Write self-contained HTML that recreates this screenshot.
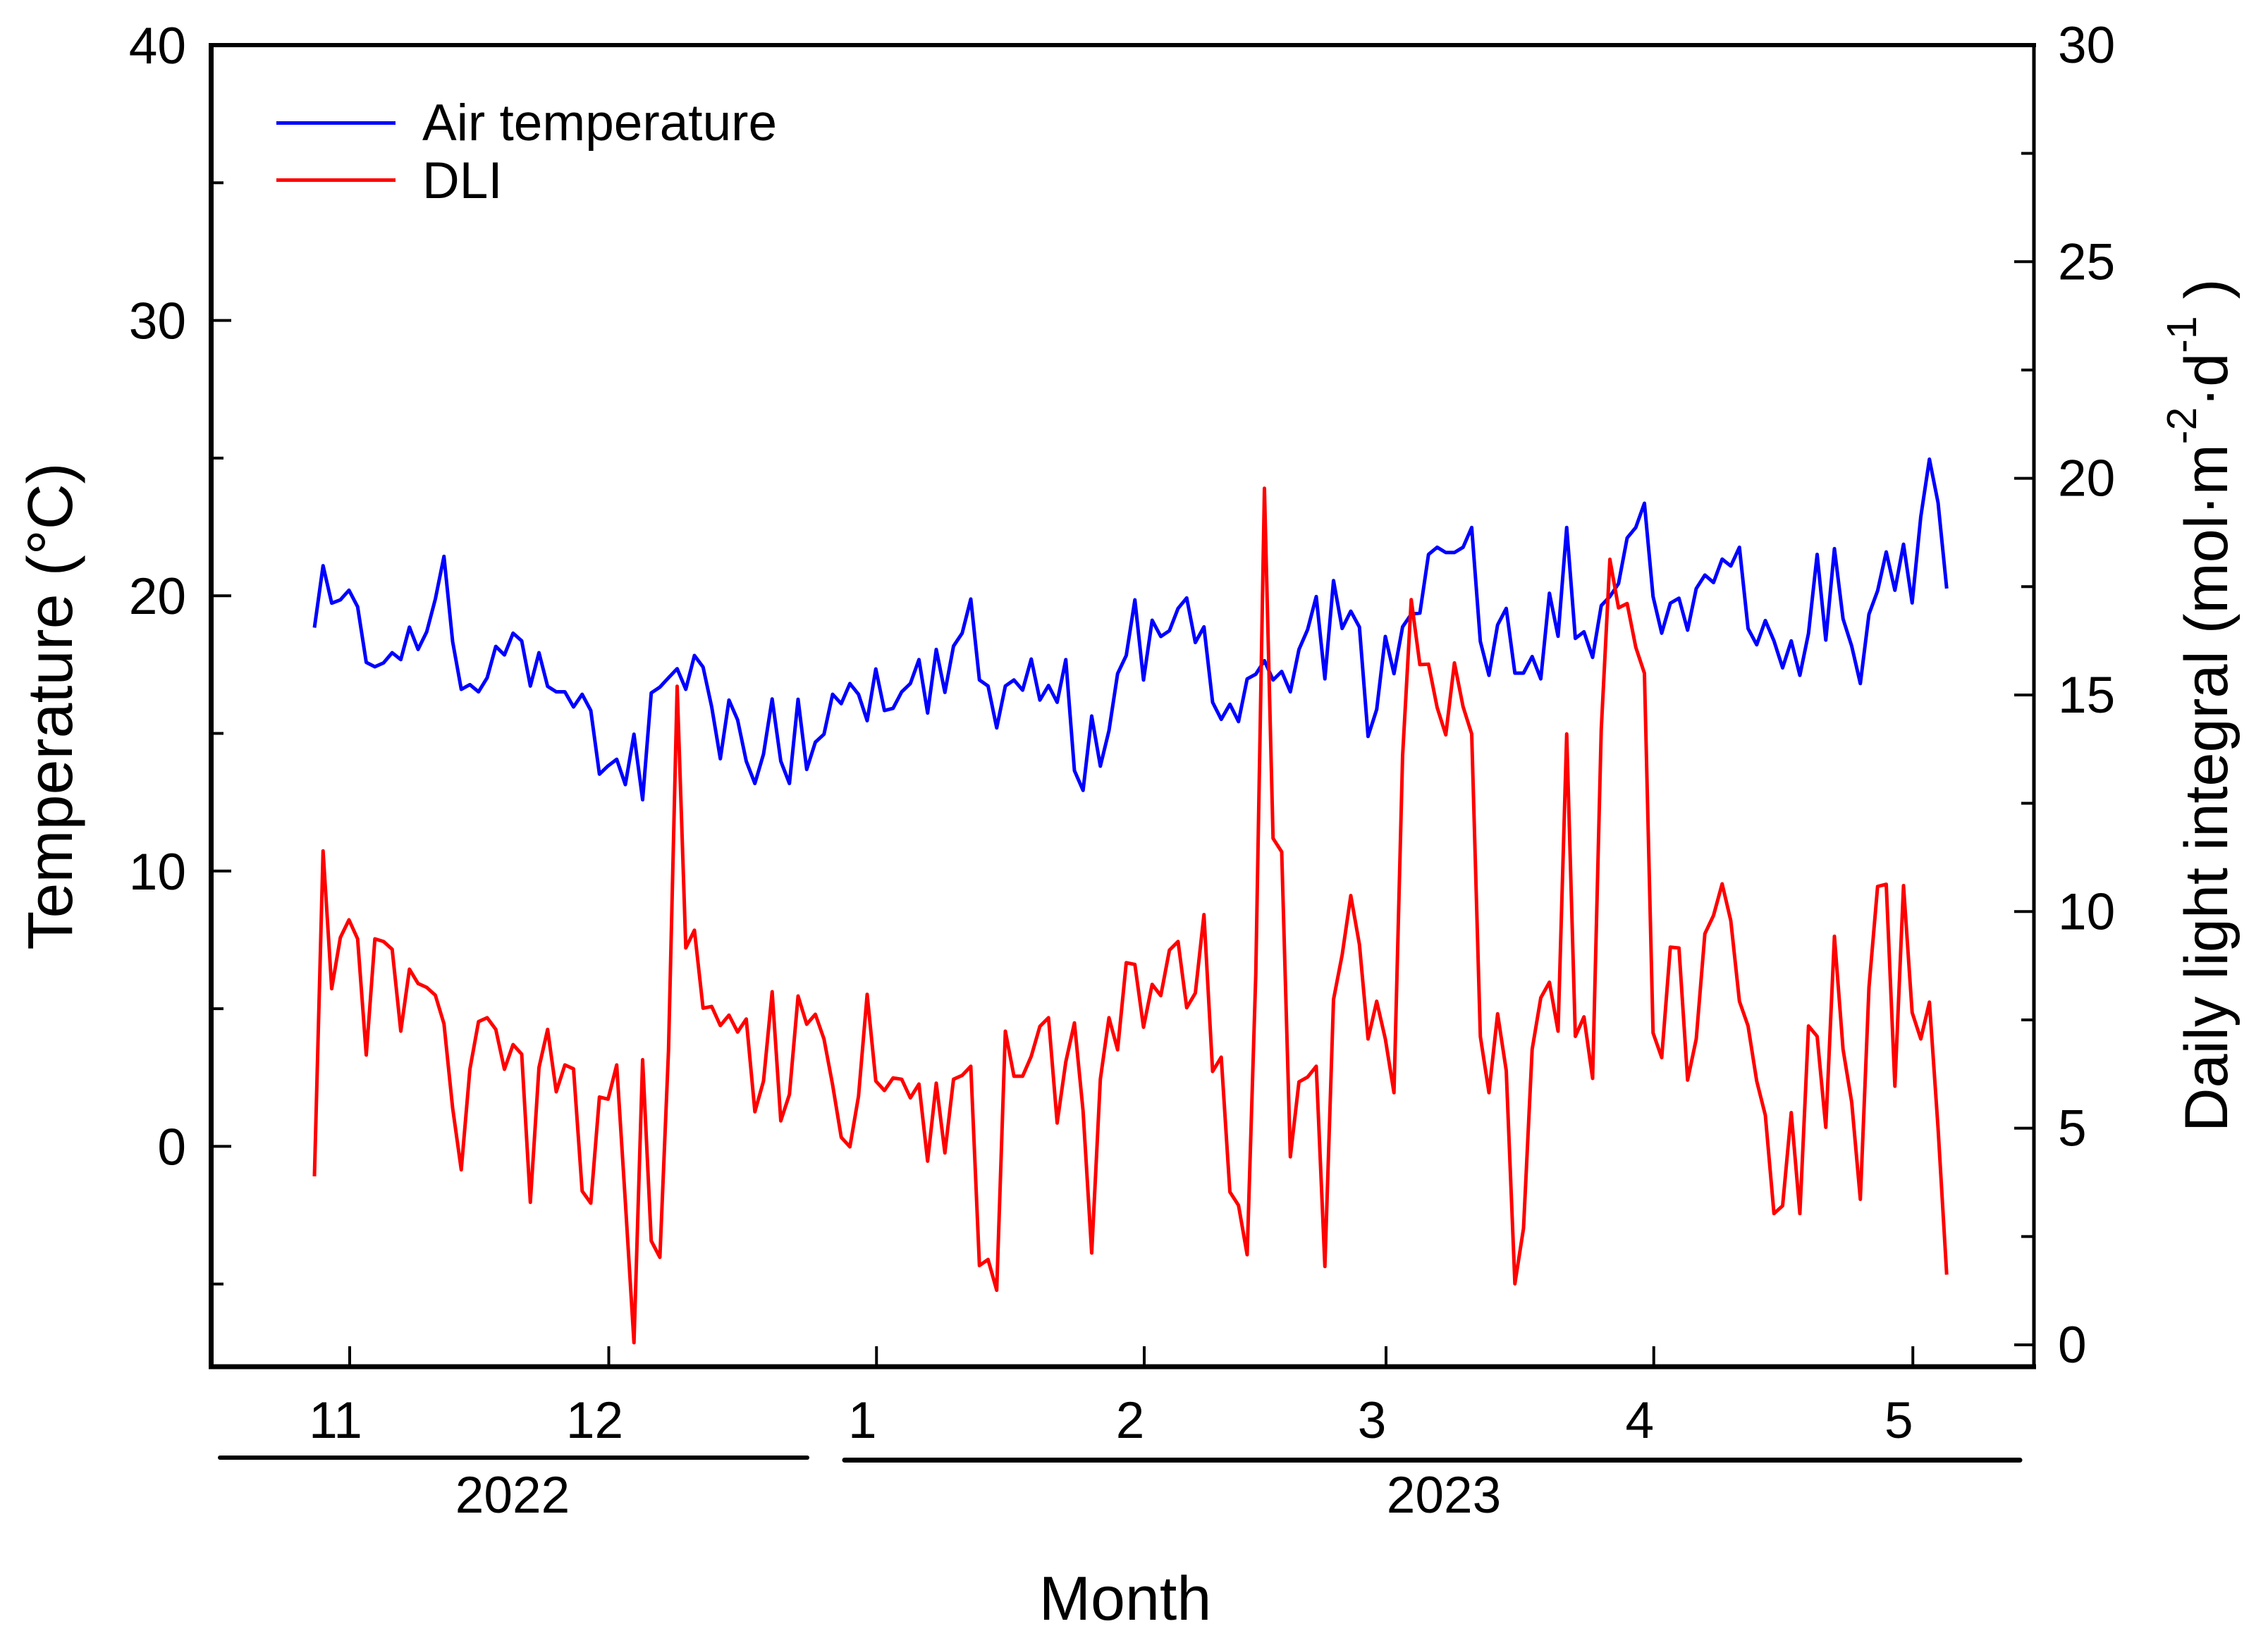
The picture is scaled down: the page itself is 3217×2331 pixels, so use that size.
<!DOCTYPE html>
<html lang="en">
<head>
<meta charset="utf-8">
<title>Air temperature and DLI</title>
<style>
html,body{margin:0;padding:0;background:#fff;}
svg{display:block;}
text{font-family:"Liberation Sans",Arial,sans-serif;fill:#000;}
</style>
</head>
<body>
<svg id="chart" xmlns="http://www.w3.org/2000/svg" width="3217" height="2331" viewBox="0 0 3217 2331">
  <rect x="0" y="0" width="3217" height="2331" fill="#fff"/>
  <g id="marks"></g>
  <g id="axes"></g>

  <line x1="296" y1="64" x2="2888" y2="64" stroke="#000" stroke-width="6"/>
  <line x1="296" y1="1939" x2="2888" y2="1939" stroke="#000" stroke-width="7"/>
  <line x1="299.5" y1="61" x2="299.5" y2="1942" stroke="#000" stroke-width="7"/>
  <line x1="2885" y1="61" x2="2885" y2="1942" stroke="#000" stroke-width="5"/>

  <g>
    <line x1="392" y1="174.5" x2="561" y2="174.5" stroke="#0000ff" stroke-width="5"/>
    <text x="599" y="199" font-size="73">Air temperature</text>
    <line x1="392" y1="255.5" x2="561" y2="255.5" stroke="#ff0000" stroke-width="5"/>
    <text x="599" y="281" font-size="73">DLI</text>
  </g>

  <line x1="312" y1="2068" x2="1145" y2="2068" stroke="#000" stroke-width="6" stroke-linecap="round"/>
  <line x1="1198" y1="2071.5" x2="2865" y2="2071.5" stroke="#000" stroke-width="7" stroke-linecap="round"/>
  <text x="727" y="2146" font-size="73" text-anchor="middle">2022</text>
  <text x="2048" y="2146" font-size="73" text-anchor="middle">2023</text>

  <text x="1596" y="2298" font-size="88" text-anchor="middle">Month</text>
  <text transform="translate(102,1002) rotate(-90)" font-size="90" text-anchor="middle">Temperature (°C)</text>
  <text transform="translate(3159,1606) rotate(-90)" font-size="86.5">Daily light integral (mol·m<tspan font-size="59" dy="-44">-2</tspan><tspan dy="44">·d</tspan><tspan font-size="59" dy="-44">-1</tspan><tspan dy="44"> )</tspan></text>
</svg>

<script>
const airTemperature = [
18.84,21.09,19.73,19.85,20.2,19.6,17.58,17.42,17.56,17.93,17.68,18.86,18.05,18.69,19.88,21.43,18.34,16.6,16.77,16.51,
17.02,18.16,17.85,18.64,18.36,16.72,17.93,16.71,16.51,16.51,15.96,16.42,15.83,13.52,13.82,14.06,13.14,14.97,12.59,16.47,
16.68,17.02,17.35,16.6,17.83,17.41,15.96,14.08,16.21,15.49,13.99,13.18,14.25,16.25,13.99,13.18,16.24,13.69,14.68,14.97,
16.42,16.08,16.81,16.42,15.46,17.34,15.83,15.91,16.51,16.81,17.68,15.74,18.05,16.49,18.17,18.64,19.88,16.94,16.72,15.2,
16.72,16.94,16.57,17.7,16.21,16.74,16.13,17.68,13.65,12.93,15.63,13.81,15.1,17.17,17.83,19.85,16.94,19.11,18.52,18.73,
19.54,19.92,18.3,18.87,16.13,15.51,16.06,15.43,16.98,17.15,17.64,16.94,17.25,16.51,18.05,18.77,19.97,16.98,20.55,18.81,
19.44,18.86,14.89,15.87,18.52,17.17,18.87,19.33,19.37,21.5,21.76,21.57,21.57,21.76,22.48,18.34,17.11,18.94,19.54,17.19,
17.19,17.79,16.98,20.09,18.53,22.48,18.45,18.69,17.76,19.64,19.97,20.44,22.1,22.48,23.36,19.97,18.64,19.73,19.91,18.75,
20.26,20.75,20.48,21.33,21.08,21.76,18.81,18.22,19.1,18.36,17.38,18.36,17.11,18.64,21.5,18.39,21.71,19.16,18.17,16.81,
19.33,20.18,21.59,20.2,21.87,19.74,22.87,24.96,23.38,20.26
];
const dailyLightIntegral = [
3.89,11.4,8.22,9.4,9.81,9.37,6.69,9.37,9.31,9.13,7.24,8.67,8.34,8.25,8.07,7.41,5.47,4.04,6.36,7.46,
7.55,7.28,6.36,6.93,6.71,3.29,6.4,7.28,5.84,6.46,6.37,3.55,3.27,5.72,5.67,6.46,3.3,0.05,6.58,2.4,
2.02,6.8,15.2,9.16,9.57,7.77,7.81,7.37,7.61,7.22,7.52,5.38,6.09,8.15,5.17,5.78,8.05,7.4,7.63,7.06,
6.0,4.79,4.57,5.74,8.09,6.09,5.87,6.16,6.13,5.7,6.02,4.24,6.04,4.43,6.13,6.22,6.43,1.83,1.97,1.26,
7.24,6.2,6.2,6.66,7.35,7.55,5.12,6.53,7.43,5.4,2.12,6.13,7.55,6.81,8.82,8.78,7.33,8.32,8.06,9.11,
9.31,7.78,8.12,9.93,6.31,6.64,3.53,3.22,2.08,8.56,19.77,11.69,11.38,4.34,6.07,6.18,6.43,1.81,7.97,9.0,
10.37,9.24,7.06,7.93,7.06,5.82,13.6,17.2,15.7,15.71,14.71,14.08,15.74,14.73,14.1,7.12,5.82,7.64,6.33,1.41,
2.69,6.82,8.01,8.37,7.24,14.1,7.12,7.57,6.15,14.2,18.13,17.01,17.11,16.1,15.5,7.2,6.63,9.18,9.16,6.11,
7.06,9.49,9.91,10.64,9.79,7.93,7.36,6.09,5.3,3.03,3.21,5.36,3.03,7.36,7.12,5.02,9.43,6.82,5.6,3.36,
8.25,10.58,10.63,5.97,10.6,7.67,7.06,7.91,5.0,1.62
];
const monthLabels = ["11","12","1","2","3","4","5"];
const monthStartDays = [4,34,65,96,124,155,185];
const leftMajorTicks = [0,10,20,30,40];
const leftMinorTicks = [-5,5,15,25,35];
const rightMajorTicks = [0,5,10,15,20,25,30];
const rightMinorTicks = [2.5,7.5,12.5,17.5,22.5,27.5];

const SVG_NS = "http://www.w3.org/2000/svg";
const marks = document.getElementById("marks");
const axes = document.getElementById("axes");

function xScale(day){ return 446 + 12.25 * day; }
function yLeft(v){ return 1626.4 - 39.06 * v; }
function yRight(v){ return 1908 - 61.47 * v; }

function drawTick(x1, y1, x2, y2, name){
  const el = document.createElementNS(SVG_NS, "line");
  el.setAttribute("x1", x1);
  el.setAttribute("y1", y1);
  el.setAttribute("x2", x2);
  el.setAttribute("y2", y2);
  el.setAttribute("stroke", "#000");
  el.setAttribute("stroke-width", 4);
  
  
  axes.appendChild(el);
}
function drawLabel(x, y, text, anchor, name){
  const el = document.createElementNS(SVG_NS, "text");
  el.setAttribute("x", x);
  el.setAttribute("y", y);
  el.setAttribute("font-size", 73);
  el.setAttribute("text-anchor", anchor);
  el.textContent = text;
  
  
  axes.appendChild(el);
}
function drawSeries(values, scale, color, name){
  const pts = values.map(function(v, i){ return xScale(i).toFixed(2) + "," + scale(v).toFixed(2); }).join(" ");
  const el = document.createElementNS(SVG_NS, "polyline");
  el.setAttribute("points", pts);
  el.setAttribute("fill", "none");
  el.setAttribute("stroke", color);
  el.setAttribute("stroke-width", 5);
  el.setAttribute("stroke-linejoin", "round");
  
  
  marks.appendChild(el);
}

leftMajorTicks.forEach(function(v){
  drawTick(303, yLeft(v), 328, yLeft(v), "left-major-tick");
  drawLabel(264, yLeft(v) + 26, String(v), "end", "left-tick-label");
});
leftMinorTicks.forEach(function(v){
  drawTick(303, yLeft(v), 317, yLeft(v), "left-minor-tick");
});
rightMajorTicks.forEach(function(v){
  drawTick(2857, yRight(v), 2883, yRight(v), "right-major-tick");
  drawLabel(2919, yRight(v) + 25, String(v), "start", "right-tick-label");
});
rightMinorTicks.forEach(function(v){
  drawTick(2867, yRight(v), 2883, yRight(v), "right-minor-tick");
});
monthStartDays.forEach(function(d, i){
  drawTick(xScale(d) + 1, 1910, xScale(d) + 1, 1936, "month-tick");
  drawLabel(xScale(d) - 19, 2040, monthLabels[i], "middle", "month-label");
});

drawSeries(airTemperature, yLeft, "#0000ff", "air-temperature-line");
drawSeries(dailyLightIntegral, yRight, "#ff0000", "dli-line");
</script>
</body>
</html>
